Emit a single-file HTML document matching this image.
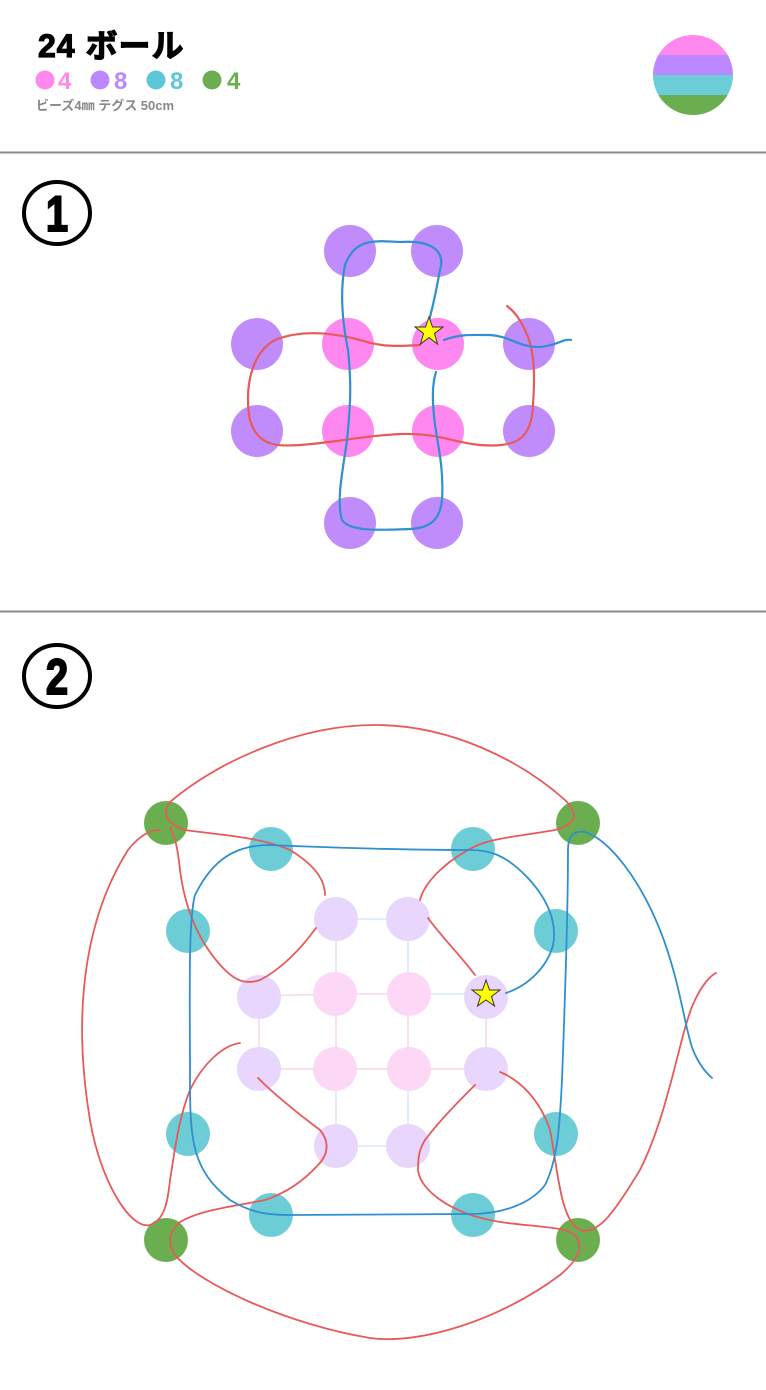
<!DOCTYPE html>
<html><head><meta charset="utf-8"><style>
html,body{margin:0;padding:0;background:#fff;}
svg{display:block}
text{font-family:"Liberation Sans","Noto Sans CJK JP",sans-serif;font-weight:bold}
</style></head><body>
<svg width="766" height="1390" viewBox="0 0 766 1390" xmlns="http://www.w3.org/2000/svg">
<rect width="766" height="1390" fill="#fff"/>
<!-- header -->
<text x="38" y="57" font-size="32" fill="#000" stroke="#000" stroke-width="1.2" letter-spacing="1">24 ボール</text>
<circle cx="45" cy="80" r="9.5" fill="#ff88ee"/><text x="58" y="89" font-size="24" fill="#ff88ee">4</text>
<circle cx="100" cy="80" r="9.5" fill="#bb88ff"/><text x="114" y="89" font-size="24" fill="#bb88ff">8</text>
<circle cx="156" cy="80" r="9.5" fill="#5cc8d6"/><text x="170" y="89" font-size="24" fill="#5cc8d6">8</text>
<circle cx="212" cy="80" r="9.5" fill="#6aae50"/><text x="227" y="89" font-size="24" fill="#6aae50">4</text>
<text x="36" y="110" font-size="13" fill="#888">ビーズ4㎜ テグス 50cm</text>
<defs><clipPath id="cc"><circle cx="693" cy="75" r="40"/></clipPath></defs>
<g clip-path="url(#cc)">
<rect x="650" y="33" width="90" height="22" fill="#ff88ee"/>
<rect x="650" y="55" width="90" height="20" fill="#bb88ff"/>
<rect x="650" y="75" width="90" height="20" fill="#6ccdd6"/>
<rect x="650" y="95" width="90" height="25" fill="#6aae50"/>
</g>
<line x1="0" y1="152.5" x2="766" y2="152.5" stroke="#888" stroke-width="2"/>
<line x1="0" y1="611.5" x2="766" y2="611.5" stroke="#888" stroke-width="2"/>
<!-- circled numbers -->
<ellipse cx="57" cy="213" rx="33" ry="31" fill="none" stroke="#000" stroke-width="4"/>
<text x="57" y="231" font-size="50" text-anchor="middle" fill="#000" transform="translate(57 0) scale(0.8 1) translate(-57 0)" stroke="#000" stroke-width="2">1</text>
<ellipse cx="57" cy="676" rx="33" ry="31" fill="none" stroke="#000" stroke-width="4"/>
<text x="57" y="694" font-size="50" text-anchor="middle" fill="#000" transform="translate(57 0) scale(0.8 1) translate(-57 0)" stroke="#000" stroke-width="2">2</text>

<!-- step 1 beads -->
<g fill="#c08cfc">
<circle cx="350" cy="251" r="26"/><circle cx="437" cy="251" r="26"/>
<circle cx="257" cy="344" r="26"/><circle cx="529" cy="344" r="26"/>
<circle cx="257" cy="431" r="26"/><circle cx="529" cy="431" r="26"/>
<circle cx="350" cy="523" r="26"/><circle cx="437" cy="523" r="26"/>
</g>
<g fill="#ff88f0">
<circle cx="348" cy="344" r="26"/><circle cx="438" cy="344" r="26"/>
<circle cx="348" cy="431" r="26"/><circle cx="438" cy="431" r="26"/>
</g>
<g fill="none" stroke-width="2.2" stroke-linecap="round">
<path d="M420 345 C390 347 380 346 360 340 C330 332 300 330 275 340 C248 355 245 395 250 420 C258 448 280 446 300 445 C340 442 360 436 400 434 C440 433 450 442 480 445 C515 448 532 440 533 405 C535 375 535 350 525 330 C518 315 512 310 507 306" stroke="#e85a5a"/>
<path d="M427 328 C435 300 436 290 440 270 C446 250 430 240 400 242 C370 240 355 240 345 265 C340 290 342 320 348 350 C352 385 350 410 347 440 C343 470 336 500 342 520 C350 532 380 530 410 529 C430 528 440 520 442 500 C444 470 438 445 435 425 C432 400 432 385 436 372 M444 340 C460 334 470 335 490 335 C510 336 520 348 540 347 C555 346 565 338 571 340" stroke="#2f8fd0"/>
</g>
<polygon points="429,317 432.5,327 443,327 434.5,333.5 437.5,344 429,337.5 420.5,344 423.5,333.5 415,327 425.5,327" fill="#ffff00" stroke="#333" stroke-width="1"/>

<!-- step 2 faint inner strings -->
<g fill="none" stroke-width="1.5">
<path d="M336 919 L408 919 M336 919 L336 994 M408 919 L408 994 M336 1069 L336 1146 L408 1146 L408 1069 M408 994 L486 994" stroke="#d6e8f6"/>
<path d="M259 996 L336 994 L408 994 M259 996 L259 1069 L336 1069 L408 1069 L486 1069 L486 996 M336 994 L336 1069 M408 994 L408 1069" stroke="#f6d8e6"/>
</g>
<!-- step 2 beads -->
<g fill="#6aae50">
<circle cx="166" cy="823" r="22"/><circle cx="578" cy="823" r="22"/>
<circle cx="166" cy="1240" r="22"/><circle cx="578" cy="1240" r="22"/>
</g>
<g fill="#6ccdd6">
<circle cx="271" cy="849" r="22"/><circle cx="473" cy="849" r="22"/>
<circle cx="188" cy="931" r="22"/><circle cx="556" cy="931" r="22"/>
<circle cx="188" cy="1134" r="22"/><circle cx="556" cy="1134" r="22"/>
<circle cx="271" cy="1215" r="22"/><circle cx="473" cy="1215" r="22"/>
</g>
<g fill="#e8d6fc">
<circle cx="336" cy="919" r="22"/><circle cx="408" cy="919" r="22"/>
<circle cx="259" cy="997" r="22"/><circle cx="486" cy="997" r="22"/>
<circle cx="259" cy="1069" r="22"/><circle cx="486" cy="1069" r="22"/>
<circle cx="336" cy="1146" r="22"/><circle cx="408" cy="1146" r="22"/>
</g>
<g fill="#fdd8f6">
<circle cx="335" cy="994" r="22"/><circle cx="409" cy="994" r="22"/>
<circle cx="335" cy="1069" r="22"/><circle cx="409" cy="1069" r="22"/>
</g>
<!-- step 2 red -->
<g fill="none" stroke="#e85a5a" stroke-width="1.8" stroke-linecap="round">
<path d="M185 830 C170 825 160 815 170 802 C220 760 300 725 375 725 C450 725 520 760 565 800 C580 815 575 825 555 830 C520 836 495 838 478 845 C450 858 425 880 420 900 M428 918 C440 935 460 955 475 975"/>
<path d="M185 830 C220 835 260 837 290 850 C315 865 325 880 325 895 M316 928 C300 950 280 970 260 980 C245 985 235 980 225 970 C200 945 185 910 180 870 C178 850 175 835 170 828"/>
<path d="M160 830 C150 830 140 835 128 850 C90 910 70 1000 90 1120 C100 1180 130 1230 150 1225 C165 1220 168 1200 170 1180 C175 1150 178 1120 190 1090 C205 1060 225 1045 240 1043 M258 1078 C275 1095 300 1115 320 1130 C330 1142 328 1155 318 1165 C300 1185 280 1195 265 1200 C230 1207 200 1210 180 1222 C168 1232 168 1245 175 1255 C200 1285 290 1325 370 1338 C420 1345 500 1320 560 1275 C590 1250 580 1235 565 1230 C540 1225 510 1225 490 1220 C450 1212 420 1190 418 1170 C418 1155 420 1148 425 1140 C440 1120 460 1100 475 1085 M500 1072 C520 1080 540 1100 550 1130 C558 1170 560 1220 580 1230 C600 1235 615 1210 640 1170 C670 1110 680 1030 695 1000 C702 985 710 976 716 973"/>
</g>
<!-- step 2 blue -->
<g fill="none" stroke="#2f8fd0" stroke-width="1.8" stroke-linecap="round">
<path d="M506 993 C530 985 548 965 553 945 C558 920 545 895 525 875 C505 855 490 850 470 850 C400 850 340 848 270 845 C230 845 210 865 195 895 C188 920 190 1000 190 1080 C190 1140 192 1170 230 1200 C250 1212 265 1215 290 1215 C360 1215 420 1214 470 1214 C500 1214 530 1205 545 1185 C558 1160 560 1120 562 1080 C565 1000 568 900 568 850 C568 835 575 830 585 832 C610 840 640 880 660 930 C680 980 685 1030 693 1050 C698 1062 705 1072 712 1078"/>
</g>
<polygon points="486,980 489.5,990 500,990 491.5,996.5 494.5,1006 486,1000 477.5,1006 480.5,996.5 472,990 482.5,990" fill="#ffff00" stroke="#333" stroke-width="1"/>
</svg>
</body></html>
